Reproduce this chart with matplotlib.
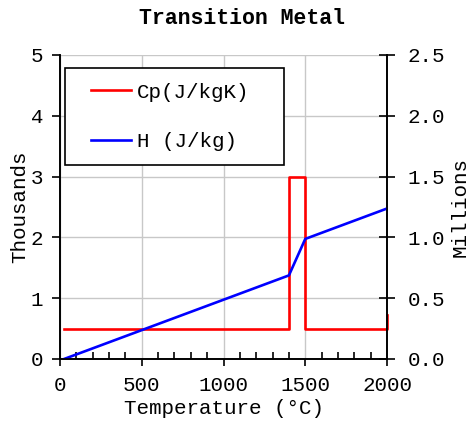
import matplotlib
matplotlib.use("Agg")
import matplotlib.pyplot as plt
from matplotlib.lines import Line2D
from matplotlib.legend_handler import HandlerLine2D
from matplotlib.ticker import MultipleLocator, FormatStrFormatter

plt.rcParams['font.family'] = ['Liberation Mono', 'DejaVu Sans Mono']
plt.rcParams['font.size'] = 15

# Specific heat (J/kgK) versus temperature
cp_temp = [25, 1400, 1400, 1500, 1500, 2000, 2000]
cp_vals = [500, 500, 3000, 3000, 500, 500, 720]

# Enthalpy (J/kg) versus temperature
h_temp = [25, 1400, 1500, 2000]
h_vals = [0, 687500, 987500, 1237500]

fig = plt.figure(figsize=(4.71, 4.22), dpi=100)
ax = fig.add_axes([0.1274, 0.1493, 0.6943, 0.7204])
ax2 = ax.twinx()

red_line, = ax.plot(cp_temp, [v / 1000 for v in cp_vals], color='#ff0000', lw=1.9,
                    label='Cp(J/kgK)', clip_on=False)
blue_line, = ax2.plot(h_temp, [v / 1e6 for v in h_vals], color='#0000ff', lw=1.9,
                      label='H (J/kg)')

ax.set_xlim(0, 2000)
ax.set_ylim(0, 5)
ax2.set_ylim(0, 2.5)

ax.xaxis.set_major_locator(MultipleLocator(500))
ax.xaxis.set_minor_locator(MultipleLocator(100))
ax.yaxis.set_major_locator(MultipleLocator(1))
ax2.yaxis.set_major_locator(MultipleLocator(0.5))
ax2.yaxis.set_major_formatter(FormatStrFormatter('%.1f'))

ax.grid(True, color='#c8c8c8', lw=1.0)
ax.set_axisbelow(True)

for a in (ax, ax2):
    a.spines['top'].set_visible(False)
    for s in ('left', 'right', 'bottom'):
        a.spines[s].set_color('black')
        a.spines[s].set_linewidth(1.2)

ax.tick_params(axis='x', which='major', direction='out', length=5, width=1.2, color='black', pad=7.5)
ax.tick_params(axis='x', which='minor', direction='in', length=5, width=1.2, color='black')
ax.tick_params(axis='y', which='major', direction='out', length=6, width=1.2, color='black', pad=6)
ax2.tick_params(axis='y', which='major', direction='inout', length=12, width=1.2, color='black', pad=9)

ax.set_xlabel('Temperature (°C)', labelpad=2.5)
ax.set_ylabel('Thousands', labelpad=1)
ax2.set_ylabel('Millions', rotation=90, labelpad=4)

# title sits a little right of the axes centre
ax.set_title('Transition Metal', fontweight='bold', fontsize=15.5, pad=22, x=0.557)

leg = ax2.legend(handles=[red_line, blue_line], loc='upper left',
                 bbox_to_anchor=(0.0153, 0.5, 0.67, 0.457), mode='expand',
                 frameon=True, fancybox=False, edgecolor='black', framealpha=1,
                 borderpad=0.7, labelspacing=1.45, handlelength=2.45,
                 handletextpad=0.3, borderaxespad=0,
                 handler_map={Line2D: HandlerLine2D(xpad=0.55)})
leg.get_frame().set_linewidth(1.2)

fig.savefig('out.png', dpi=100)
